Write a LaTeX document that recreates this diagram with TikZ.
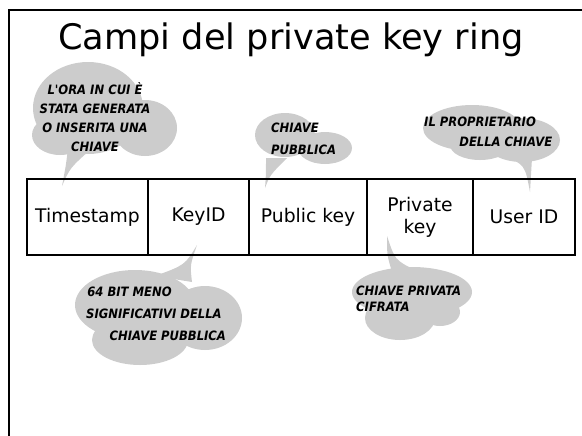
\documentclass[tikz,border=0pt]{standalone}
\usepackage{fontspec}
\setmainfont{DejaVu Sans}
\newfontfamily\cloudfont{DejaVu Sans Condensed}
\usetikzlibrary{positioning}
\definecolor{cloudgray}{gray}{0.8}
\tikzset{
  field/.style={draw, line width=2.4pt, minimum height=2.28cm, inner sep=1pt,
    outer sep=0pt, align=center, font=\fontsize{16}{19}\selectfont},
  saytext/.style={font=\cloudfont\bfseries\itshape\fontsize{11}{#1}\selectfont,
    align=left, inner sep=0pt},
  cloud/.style={fill=cloudgray}
}
\begin{document}
\begin{tikzpicture}[x=0.03cm, y=-0.03cm]
				\useasboundingbox (0,0) rectangle (582,435);
				% Frame and title
				\draw[line width=1.7pt] (9,436) -- (9,10) -- (583,10);
				\node (title) at (291,40) {\fontsize{30}{36}\selectfont Campi del private key ring};
				% Clouds
				\fill[cloud] (88,108) ellipse [x radius=55, y radius=46]
					(145,128) ellipse [x radius=32, y radius=28]
					(60,135) ellipse [x radius=28, y radius=20];
				\fill[cloud] (68,148) .. controls (66,165) .. (62,186) .. controls (70,168) .. (90,150) -- cycle;
				\fill[cloud] (285,135) ellipse [x radius=30, y radius=22]
					(325,148) ellipse [x radius=27, y radius=16];
				\fill[cloud] (266,158) .. controls (266,175) .. (265,188) .. controls (270,175) .. (287,158) -- cycle;
				\fill[cloud] (472,128) ellipse [x radius=49, y radius=23]
					(522,140) ellipse [x radius=38, y radius=22]
					(480,145) ellipse [x radius=30, y radius=15];
				\fill[cloud] (503,155) .. controls (525,165) .. (530,192) .. controls (530,175) .. (532,158) -- cycle;
				\fill[cloud] (135,305) ellipse [x radius=60, y radius=35]
					(205,318) ellipse [x radius=37, y radius=32]
					(140,340) ellipse [x radius=48, y radius=25];
				\fill[cloud] (155,276) .. controls (185,265) .. (197,245) .. controls (190,265) .. (192,282) -- cycle;
				\fill[cloud] (412,292) ellipse [x radius=60, y radius=25]
					(400,318) ellipse [x radius=35, y radius=22]
					(440,312) ellipse [x radius=20, y radius=14];
				\fill[cloud] (387,236) .. controls (387,255) .. (392,272) -- (415,270) .. controls (395,260) .. (387,236) -- cycle;
				% Fields
				\node[field, minimum width=3.63cm] (ts) at (87.5,217) {Timestamp};
				\node[field, minimum width=3.03cm, right=0pt of ts] (kid) {KeyID};
				\node[field, minimum width=3.54cm, right=0pt of kid] (pub) {Public key};
				\node[field, minimum width=3.18cm, right=0pt of pub] (priv) {Private\\key};
				\node[field, minimum width=3.06cm, right=0pt of priv] (uid) {User ID};
				% Cloud texts
				\node[saytext=16pt, align=center] (tsnote) at (95,117) {L'ORA IN CUI È\\STATA GENERATA\\O INSERITA UNA\\CHIAVE};
				\node[saytext=18.8pt, anchor=west] (pubnote) at (271,139) {CHIAVE\\PUBBLICA};
				\node[saytext=17pt, anchor=west] (uidnote) at (424,132) {IL PROPRIETARIO\\\hspace*{30pt}DELLA CHIAVE};
				\node[saytext=19pt, anchor=west] (kidnote) at (86,314) {\hspace*{1pt}64 BIT MENO\\SIGNIFICATIVI DELLA\\\hspace*{20pt}CHIAVE PUBBLICA};
				\node[saytext=14pt, anchor=west] (privnote) at (356,299) {CHIAVE PRIVATA\\CIFRATA};
			\end{tikzpicture}
\end{document}
